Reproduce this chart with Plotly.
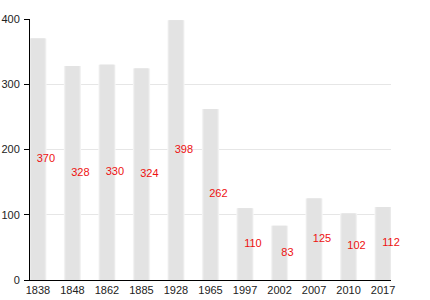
import plotly.graph_objects as go

years = ["1838", "1848", "1862", "1885", "1928", "1965", "1997", "2002", "2007", "2010", "2017"]
population = [370, 328, 330, 324, 398, 262, 110, 83, 125, 102, 112]

idx = list(range(len(years)))

fig = go.Figure()
# layered bars to imitate the soft horizontal fade at the bar edges
for w, c in [(0.50, "#f6f6f6"), (0.46, "#ededed"), (0.42, "#e6e6e6"), (0.38, "#e3e3e3")]:
    fig.add_trace(go.Bar(x=idx, y=population, width=w, marker=dict(color=c, line=dict(width=0)),
                         hoverinfo="skip", showlegend=False))

fig.add_trace(go.Scatter(
    x=[i + 0.23 for i in idx], y=[v / 2 for v in population],
    mode="text", text=[str(v) for v in population],
    textfont=dict(color="#ee1111", size=11, family="Liberation Sans, Arial"),
    textposition="middle center", showlegend=False, hoverinfo="skip", cliponaxis=False))

fig.update_layout(
    width=430, height=300, barmode="overlay",
    margin=dict(l=30, r=39, t=19, b=20, autoexpand=False),
    paper_bgcolor="white", plot_bgcolor="white",
    font=dict(family="Liberation Sans, Arial", size=11, color="#222"),
    xaxis=dict(range=[-0.23, 10.23], tickvals=idx, ticktext=years, showgrid=False,
               showline=True, linecolor="#000", linewidth=1, ticks="", zeroline=False,
               automargin=False, ticklabelstandoff=0),
    yaxis=dict(range=[0, 400], tickvals=[0, 100, 200, 300, 400], showgrid=True,
               gridcolor="#e6e6e6", gridwidth=1, showline=True, linecolor="#000", linewidth=1,
               ticks="outside", ticklen=5, tickcolor="#000", zeroline=False, ticklabelstandoff=2,
               automargin=False),
)

fig.write_html("out.html")
